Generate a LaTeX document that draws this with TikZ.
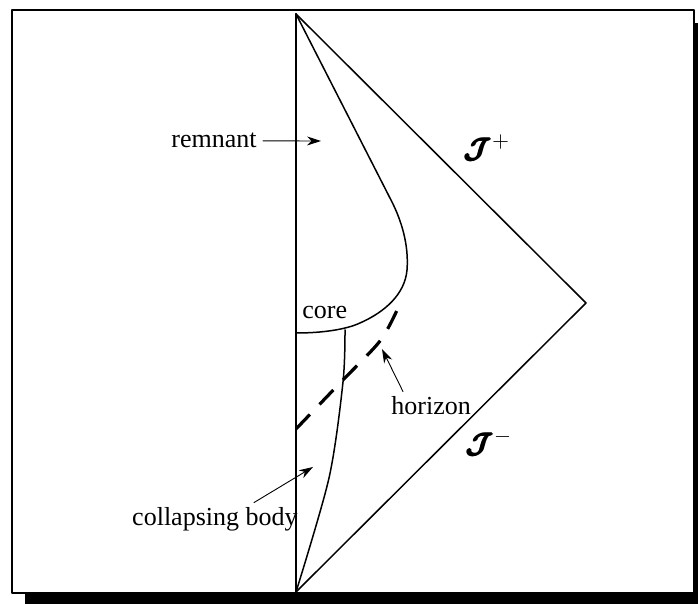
\documentclass[tikz,border=0pt]{standalone}
\usepackage{amsmath}
\usepackage{fontspec}
\setmainfont{Liberation Serif}
\usetikzlibrary{arrows.meta}

\tikzset{
  lab/.style={font=\fontsize{13}{15}\selectfont, inner sep=0pt},
  scri/.style={font=\fontsize{15.5}{18}\selectfont, inner sep=0pt},
  pointer/.style={-{Stealth[length=7pt,width=4.5pt]}, line width=0.45pt},
  edge/.style={line width=0.75pt},
  axis/.style={line width=1.1pt},
  horiz/.style={line width=1.6pt, line cap=butt, dash pattern=on 10pt off 7pt}
}
\newcommand{\scrJ}{\pmb{\boldsymbol{\mathcal{J}}}}

\begin{document}
\begin{tikzpicture}[x=0.5pt,y=0.5pt, line cap=round, line join=round]

\useasboundingbox (0,0) rectangle (698,604);
\clip (0,0) rectangle (698,604);

% Rahmen mit Schatten
\fill (25,-2) rectangle (707,581);
\draw[fill=white, line width=1.1pt] (12,11) rectangle (694,594);

% Ecken des Diagramms
\coordinate (top) at (296,590);
\coordinate (bot) at (296,12);
\coordinate (io)  at (586,301);

% Achse und Nullrand
\draw[axis] (bot) -- (top);
\draw[edge] (top) -- (io) -- (bot);

% Rand von Rest und Kern
\draw[edge] (top) -- (392,402)
  .. controls (401,384) and (409,360) .. (407,334)
  .. controls (405,310) and (385,292) .. (360,281)
  .. controls (345,274) and (320,271) .. (297,271);

% Oberflaeche des Koerpers
\draw[edge] plot[smooth] coordinates {(345,274) (343,222) (329,126) (296,12)};

% Horizont
\draw[horiz] plot[smooth] coordinates {(296,175) (340,221) (380,263) (398,296)};

% Beschriftungen
\node[lab, anchor=base east] (remnant) at (257,456) {remnant};
\node[lab, anchor=base west] (core)    at (302,285) {core};
\node[lab, anchor=base west] (horizon) at (391,189) {horizon};
\node[lab, anchor=base east] (cbody)   at (298,78)  {collapsing body};

\node[scri, anchor=west] (scriplus)  at (464,456) {$\scrJ^{+}$};
\node[scri, anchor=west] (scriminus) at (466,161) {$\scrJ^{-}$};

% Pfeile
\coordinate (remtip) at (321,463);
\coordinate (hortip) at (382,255);
\coordinate (cbtip)  at (313,137);

\draw[pointer, shorten <=3pt] (remnant) -- (remtip);
\draw[pointer] ([shift={(12,5)}]horizon.north west) -- (hortip);
\draw[pointer] ([shift={(-44,5)}]cbody.north east) -- (cbtip);

\end{tikzpicture}
\end{document}
